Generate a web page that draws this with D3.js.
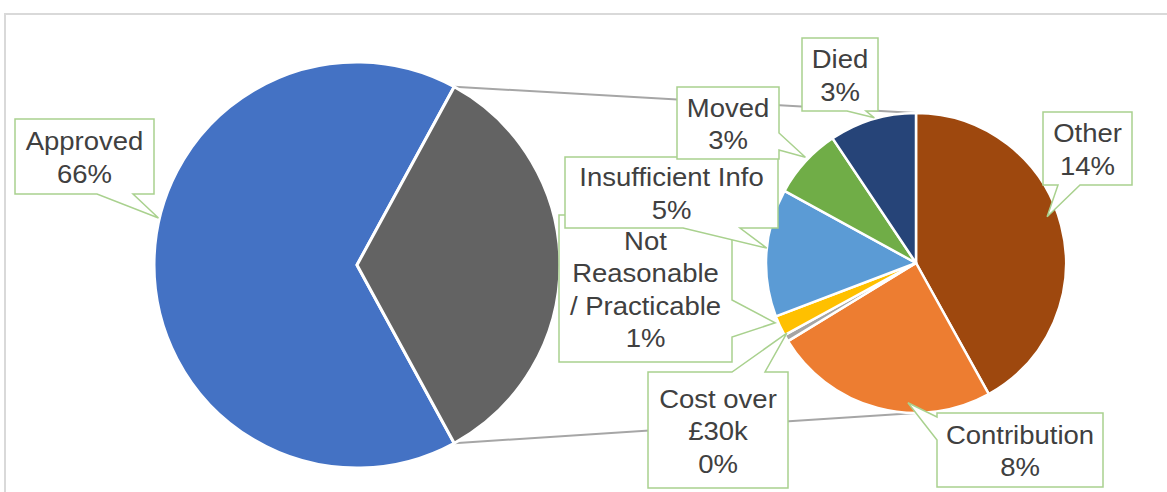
<!DOCTYPE html>
<meta charset="utf-8">
<script src="https://d3js.org/d3.v7.min.js"></script>
<style>
  body { margin: 0; background: #fff; }
  text { font-family: "Liberation Sans", Arial, sans-serif; }
</style>
<div id="my_dataviz"></div>
<script>
// main pie
var mainCategories = ["Approved", "Other"];
var mainValues = [65.9, 34.1];
var mainColors = ["#4472c4", "#636363"];
var mainLabelLines = [["Approved"], null];

// secondary pie, the split of the grey slice
var subCategories = ["Other", "Contribution", "Cost over £30k", "Not Reasonable / Practicable", "Insufficient Info", "Moved", "Died"];
var subValues = [14.3, 8.3, 0.25, 0.75, 4.7, 2.6, 3.2];
var subColors = ["#9e480e", "#ed7d31", "#a5a5a5", "#ffc000", "#5b9bd5", "#70ad47", "#264478"];
var subLabelLines = [["Other"], ["Contribution"], ["Cost over", "£30k"], ["Not", "Reasonable", "/ Practicable"], ["Insufficient Info"], ["Moved"], ["Died"]];

var width = 1167, height = 492;
var svg = d3.select("#my_dataviz")
  .append("svg")
    .attr("width", width)
    .attr("height", height);

// chart frame
svg.append("rect")
  .attr("x", 5).attr("y", 14)
  .attr("width", 1300).attr("height", 600)
  .attr("fill", "#fff")
  .attr("stroke", "#d9d9d9")
  .attr("stroke-width", 2);

var deg = Math.PI / 180;
var main = {cx: 357, cy: 265, r: 203};
var sub = {cx: 916, cy: 263, r: 150};

// grey slice centred on the right hand side
var total = d3.sum(mainValues);
var greyShare = mainValues[1] / total;
var mainPie = d3.pie().sort(null)
  .startAngle(Math.PI / 2 + greyShare * Math.PI)
  .endAngle(Math.PI / 2 + greyShare * Math.PI + 2 * Math.PI);
var mainArcs = mainPie(mainValues);

var subPie = d3.pie().sort(null);
var subArcs = subPie(subValues);

// point on a circle of radius r at angle a (clockwise from 12 o'clock)
function pt(c, r, a) {
  var p = d3.arc().innerRadius(r).outerRadius(r).centroid({startAngle: a, endAngle: a});
  return [c.cx + p[0], c.cy + p[1]];
}

// connector lines between the two pies
var grey = mainArcs[1];
var connectors = [
  [pt(main, main.r, grey.startAngle), pt(sub, sub.r, 0)],
  [pt(main, main.r, grey.endAngle), pt(sub, sub.r, Math.PI)]
];
svg.selectAll("line.conn")
  .data(connectors)
  .enter()
  .append("line")
    .attr("x1", function(d) { return d[0][0]; })
    .attr("y1", function(d) { return d[0][1]; })
    .attr("x2", function(d) { return d[1][0]; })
    .attr("y2", function(d) { return d[1][1]; })
    .attr("stroke", "#a6a6a6")
    .attr("stroke-width", 2);

// main pie
svg.append("g")
  .attr("transform", "translate(" + main.cx + "," + main.cy + ")")
  .selectAll("path")
  .data(mainArcs)
  .enter()
  .append("path")
    .attr("d", d3.arc().innerRadius(0).outerRadius(main.r))
    .attr("fill", function(d, i) { return mainColors[i]; })
    .attr("stroke", "#fff")
    .attr("stroke-width", 3)
    .attr("stroke-linejoin", "round");

// secondary pie
svg.append("g")
  .attr("transform", "translate(" + sub.cx + "," + sub.cy + ")")
  .selectAll("path")
  .data(subArcs)
  .enter()
  .append("path")
    .attr("d", d3.arc().innerRadius(0).outerRadius(sub.r))
    .attr("fill", function(d, i) { return subColors[i]; })
    .attr("stroke", "#fff")
    .attr("stroke-width", 2.5)
    .attr("stroke-linejoin", "round");

// callout boxes: box [x0,y0,x1,y1], side the pointer leaves from, base span, tip angle/radius
var fmt = d3.format(".0f");
var labels = [
  {lines: mainLabelLines[0], v: mainValues[0], c: main, box: [15, 119, 154, 194], side: "bottom", base: [97, 133], ta: 283.3, tr: 204},
  {lines: subLabelLines[3], v: subValues[3], c: sub, box: [559, 215, 732, 362], side: "right", base: [300, 337], ta: 247, tr: 153},
  {lines: subLabelLines[4], v: subValues[4], c: sub, box: [565, 157, 778, 228], side: "bottom", base: [683, 740], ta: 275.7, tr: 150},
  {lines: subLabelLines[5], v: subValues[5], c: sub, box: [677, 87, 779, 159], side: "right", base: [133, 150], ta: 313.7, tr: 153},
  {lines: subLabelLines[6], v: subValues[6], c: sub, box: [802, 38, 878, 111], side: "bottom", base: [847, 866], ta: 344, tr: 151},
  {lines: subLabelLines[2], v: subValues[2], c: sub, box: [648, 372, 788, 488], side: "top", base: [732, 765], ta: 241.5, tr: 147},
  {lines: subLabelLines[1], v: subValues[1], c: sub, box: [937, 413, 1103, 487], side: "left", base: [417, 440], ta: 183.3, tr: 140},
  {lines: subLabelLines[0], v: subValues[0], c: sub, box: [1043, 112, 1132, 185], side: "bottom", base: [1058, 1080], ta: 70.6, tr: 139}
];

function callout(b, side, base, tip) {
  var x0 = b[0], y0 = b[1], x1 = b[2], y1 = b[3];
  var p = [[x0, y0]];
  if (side == "top") p.push([base[0], y0], tip, [base[1], y0]);
  p.push([x1, y0]);
  if (side == "right") p.push([x1, base[0]], tip, [x1, base[1]]);
  p.push([x1, y1]);
  if (side == "bottom") p.push([base[1], y1], tip, [base[0], y1]);
  p.push([x0, y1]);
  if (side == "left") p.push([x0, base[1]], tip, [x0, base[0]]);
  return d3.line()(p) + "Z";
}

var lineH = 32.5;
labels.forEach(function(l) {
  var tip = pt(l.c, l.tr, l.ta * deg);
  svg.append("path")
    .attr("d", callout(l.box, l.side, l.base, tip))
    .attr("fill", "#fff")
    .attr("stroke", "#a9d18e")
    .attr("stroke-width", 1.5);

  var lines = l.lines.concat([fmt(l.v) + "%"]);
  var cx = (l.box[0] + l.box[2]) / 2;
  var cy = (l.box[1] + l.box[3]) / 2;
  var y0 = cy - (lines.length - 1) * lineH / 2 + 10;
  lines.forEach(function(t, i) {
    svg.append("text")
      .attr("transform", "translate(" + cx + "," + (y0 + i * lineH) + ") scale(1.1,1)")
      .attr("text-anchor", "middle")
      .attr("font-size", 25)
      .attr("fill", "#404040")
      .text(t);
  });
});
</script>
